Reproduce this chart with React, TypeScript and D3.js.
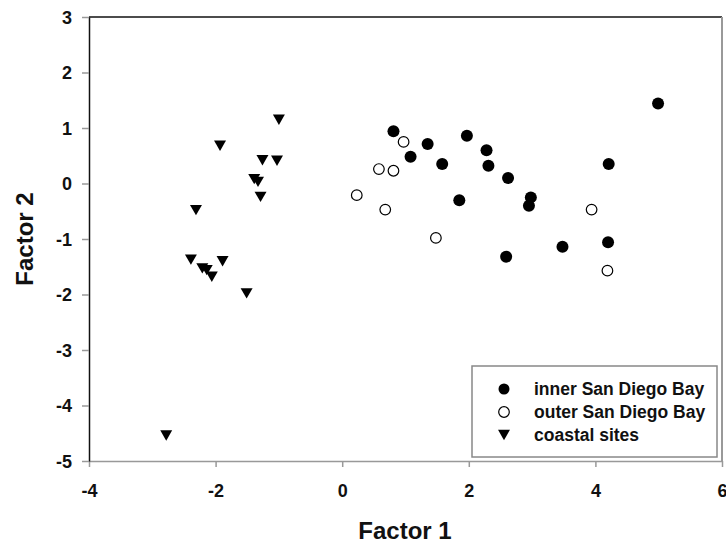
import React, { useEffect, useRef } from "react";
import * as d3 from "d3";

// inner San Diego Bay (filled circles)
const innerX = [0.81, 1.35, 1.08, 1.97, 2.28, 2.31, 1.58, 1.85, 4.99, 4.21, 2.62, 2.98, 2.95, 4.2, 3.48, 2.59];
const innerY = [0.94, 0.71, 0.48, 0.86, 0.6, 0.32, 0.35, -0.3, 1.44, 0.35, 0.1, -0.25, -0.4, -1.06, -1.14, -1.32];

// outer San Diego Bay (open circles)
const outerX = [0.97, 0.58, 0.81, 0.23, 0.68, 1.48, 3.94, 4.19];
const outerY = [0.75, 0.26, 0.23, -0.21, -0.47, -0.98, -0.47, -1.57];

// coastal sites (down triangles)
const coastX = [-1.0, -1.93, -1.26, -1.03, -1.39, -1.33, -1.29, -2.31, -2.39, -2.21, -2.14, -2.06, -1.89, -1.51, -2.78];
const coastY = [1.15, 0.68, 0.42, 0.41, 0.08, 0.03, -0.24, -0.48, -1.37, -1.53, -1.56, -1.68, -1.4, -1.98, -4.54];

const xTicks = [-4, -2, 0, 2, 4, 6];
const yTicks = [-5, -4, -3, -2, -1, 0, 1, 2, 3];
const legendLabels = ["inner San Diego Bay", "outer San Diego Bay", "coastal sites"];

const FONT = "'Liberation Sans', Arial, sans-serif";

export default function App() {
  const ref = useRef<SVGSVGElement | null>(null);

  useEffect(() => {
    const width = 726, height = 544;
    const left = 89, right = 722, top = 17, bottom = 461;

    const svg = d3.select(ref.current);
    svg.selectAll("*").remove();
    svg.attr("width", width).attr("height", height);

    const x = d3.scaleLinear().domain([-4, 6]).range([left, right]);
    const y = d3.scaleLinear().domain([-5, 3]).range([bottom, top]);
    const fmt = (d: any) => String(d); // plain hyphen minus like the original

    // frame lines top / right
    svg.append("line").attr("x1", left).attr("x2", right).attr("y1", top).attr("y2", top)
      .attr("stroke", "#111").attr("stroke-width", 1.5);
    svg.append("line").attr("x1", right).attr("x2", right).attr("y1", top).attr("y2", bottom)
      .attr("stroke", "#999").attr("stroke-width", 2);

    // x axis
    const gx = svg.append("g").attr("transform", `translate(0,${bottom})`)
      .call(d3.axisBottom(x).tickValues(xTicks).tickSize(6).tickSizeOuter(0).tickFormat(fmt));
    gx.select(".domain").attr("stroke", "#999").attr("stroke-width", 1.5);
    gx.selectAll(".tick line").attr("stroke", "#999").attr("stroke-width", 1.5);
    gx.selectAll(".tick text").attr("y", 36).attr("dy", 0)
      .attr("font-family", FONT).attr("font-weight", "bold").attr("font-size", 18).attr("fill", "#111");

    // y axis
    const gy = svg.append("g").attr("transform", `translate(${left},0)`)
      .call(d3.axisLeft(y).tickValues(yTicks).tickSize(7).tickSizeOuter(0).tickFormat(fmt));
    gy.select(".domain").attr("stroke", "#111").attr("stroke-width", 1.5);
    gy.selectAll(".tick line").attr("stroke", "#999").attr("stroke-width", 1.5);
    gy.selectAll(".tick text").attr("x", -17).attr("dy", "0.36em")
      .attr("font-family", FONT).attr("font-weight", "bold").attr("font-size", 18).attr("fill", "#111");

    // titles
    svg.append("text").attr("x", 405).attr("y", 539).attr("text-anchor", "middle")
      .attr("font-family", FONT).attr("font-weight", "bold").attr("font-size", 24).attr("fill", "#111")
      .text("Factor 1");
    svg.append("text").attr("transform", `translate(33,${(top + bottom) / 2}) rotate(-90)`)
      .attr("text-anchor", "middle")
      .attr("font-family", FONT).attr("font-weight", "bold").attr("font-size", 24).attr("fill", "#111")
      .text("Factor 2");

    const tri = d3.symbol().type(d3.symbolTriangle).size(62);
    const triOff = -1.7;

    // points
    svg.append("g").selectAll("path").data(d3.range(coastX.length)).join("path")
      .attr("d", tri)
      .attr("transform", (i) => `translate(${x(coastX[i])},${y(coastY[i]) + triOff}) rotate(180)`)
      .attr("fill", "#000");

    svg.append("g").selectAll("circle").data(d3.range(outerX.length)).join("circle")
      .attr("cx", (i) => x(outerX[i])).attr("cy", (i) => y(outerY[i])).attr("r", 5.3)
      .attr("fill", "#fff").attr("stroke", "#000").attr("stroke-width", 1.2);

    svg.append("g").selectAll("circle").data(d3.range(innerX.length)).join("circle")
      .attr("cx", (i) => x(innerX[i])).attr("cy", (i) => y(innerY[i])).attr("r", 6)
      .attr("fill", "#000");

    // legend
    const lg = svg.append("g");
    lg.append("rect").attr("x", 472).attr("y", 366).attr("width", 245).attr("height", 91)
      .attr("fill", "#fff").attr("stroke", "#888").attr("stroke-width", 1.5);
    const rowY = (i: number) => 389 + i * 23;
    lg.append("circle").attr("cx", 504).attr("cy", rowY(0)).attr("r", 5.5).attr("fill", "#000");
    lg.append("circle").attr("cx", 504).attr("cy", rowY(1)).attr("r", 5.3)
      .attr("fill", "#fff").attr("stroke", "#000").attr("stroke-width", 1.2);
    lg.append("path").attr("d", tri)
      .attr("transform", `translate(504,${rowY(2) + triOff}) rotate(180)`).attr("fill", "#000");
    lg.selectAll("text").data(legendLabels).join("text")
      .attr("x", 534).attr("y", (d, i) => rowY(i) + 6)
      .attr("font-family", FONT).attr("font-weight", "bold").attr("font-size", 17.5).attr("fill", "#111")
      .text((d) => d);
  }, []);

  return (
    <div style={{ position: "absolute", left: 0, top: 0 }}>
      <svg ref={ref} style={{ display: "block" }} />
    </div>
  );
}
